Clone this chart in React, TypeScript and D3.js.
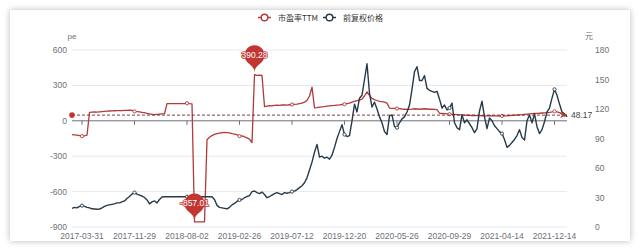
import React from 'react';
import * as d3 from 'd3';

// ---- data ----
const tickLabels = ['2017-03-31', '2017-11-29', '2018-08-02', '2019-02-26', '2019-07-12', '2019-12-20', '2020-05-26', '2020-09-29', '2021-04-14', '2021-12-14'];
const firstTickIndex = 4;
const tickEvery = 21;

const peTTM = [
  -118, -120, -122, -125, -130, -128, -122,
  72, 74, 75, 74, 76, 78, 80, 82, 83, 84, 85, 86, 87, 86, 88, 89, 90, 88,
  80, 78, 76, 72, 70, 62, 58, 55, 52, 54, 56, 58, 60,
  145, 146, 146, 145, 146, 146, 145, 146, 149, 145, 144,
  -857.01, -857, -857, -857, -857,
  -160, -140, -125, -115, -108, -104, -100, -98, -100, -102, -108, -112, -118, -130, -128, -135, -145, -155, -185,
  390.28, 385, 386, 384,
  120, 125, 128, 126, 130, 132, 130, 134, 135, 133, 136, 138, 140, 142, 145, 150, 158, 172, 210, 285,
  110, 112, 115, 118, 120, 124, 126, 128, 130, 133, 135, 138, 140,
  145, 150, 158, 165, 170, 175, 185, 210, 245, 215, 190, 180, 172, 165, 162, 158, 150,
  108, 105, 106, 104, 103, 100, 98, 96, 97, 99, 102, 100, 98, 100, 102, 100, 98, 99, 97, 95,
  64, 62, 60, 58, 56, 55, 54, 52, 50, 50, 48, 47, 46, 45, 45, 44, 44, 43, 42, 42, 43, 42, 41, 41, 40, 41,
  42, 43, 45, 46, 48, 49, 50, 52, 54, 56, 58, 60, 62, 63, 64, 66, 68, 70, 72, 75, 80, 76, 70, 55, 40, 50,
];

const price = [
  19, 20, 19.5, 21, 21.7, 21, 20, 19.5, 18.5, 18.3,
  18, 18.3, 19.5, 21, 22, 22.5, 23, 23.5, 24.5, 24.5,
  25.5, 26.5, 29, 31, 33.5, 35, 33.5, 32.5, 31.5, 30,
  27.5, 23.5, 25.5, 26.5, 24.5, 28, 30.5, 30.8,
  30.8, 30.8, 30.8, 30.8, 30.8, 30.8, 30.8, 30.8, 30.8, 30.8, 30.8, 30.8, 30.8, 30.8, 30.8, 30.8, 30.8, 30.8, 30.8,
  28, 22, 20, 19.5, 19, 18.5, 20, 22.5, 24, 26,
  27.5, 28, 29.8, 31, 32, 36, 36.6, 35, 34, 35.5,
  33, 29.8, 31, 32.5, 34, 35, 34, 33, 35, 34.3,
  35, 36, 36.5, 38, 40, 42, 45, 50, 58, 66,
  76, 84, 71, 72, 70, 71, 69, 73, 81, 90,
  97, 104, 94, 92, 93, 108, 125, 117, 131, 134,
  150, 166, 136, 122, 127, 120, 112, 106, 97, 94,
  113, 114, 102, 101, 106, 110, 112, 117, 124, 140,
  158, 163, 149, 149, 154, 141, 139, 138, 137, 138,
  130, 121, 124, 119, 121, 126, 106, 101, 99, 114,
  106, 109, 105, 101, 96, 100, 118, 128, 112, 100,
  111, 108, 103, 100, 97, 95, 89, 81, 83, 86,
  89, 93, 99, 91, 88.5, 108, 114, 106, 115, 102,
  95, 99, 107, 117, 121, 131, 140, 134, 125, 117, 115, 112,
];

const peAverage = 48.17;
const leftTicks = [600, 300, 0, -300, -600, -900];
const rightTicks = [180, 150, 120, 90, 60, 30, 0];
const seriesNames = ['市盈率TTM', '前复权价格'];

const RED = '#c23531';
const RED_LINE = '#b13a3a';
const DARK = '#263a4a';
const FONT = '"Liberation Sans", Arial, sans-serif';
const CJK = '"Noto Sans CJK SC", "Liberation Sans", sans-serif';

function pinPath(x: number, y: number, w: number, h: number) {
  const r = w / 2;
  const dy = (r * r) / (h - r);
  const cy = y - h + r + dy;
  const angle = Math.asin(dy / r);
  const dx = Math.cos(angle) * r;
  const tanX = Math.sin(angle);
  const tanY = Math.cos(angle);
  const cpLen = r * 0.6;
  const cpLen2 = r * 0.7;
  const p = d3.path();
  p.moveTo(x - dx, cy + dy);
  p.arc(x, cy, r, Math.PI - angle, Math.PI * 2 + angle);
  p.bezierCurveTo(x + dx - tanX * cpLen, cy + dy + tanY * cpLen, x, y - cpLen2, x, y);
  p.bezierCurveTo(x, y - cpLen2, x - dx + tanX * cpLen, cy + dy + tanY * cpLen, x - dx, cy + dy);
  p.closePath();
  return { d: p.toString(), cy };
}

export default function App() {
  const W = 640, H = 252;
  const left = 72, right = 567, top = 50, bottom = 227;
  const n = peTTM.length;
  const x = d3.scaleLinear().domain([0, n - 1]).range([left, right]);
  const yL = d3.scaleLinear().domain([-900, 600]).range([bottom, top]);
  const yR = d3.scaleLinear().domain([0, 180]).range([bottom, top]);

  const peLine = d3.line<number>().x((_, i) => x(i)).y((d) => yL(d));
  const priceLine = d3.line<number>().x((_, i) => x(i)).y((d) => yR(d));

  const tickIdx = tickLabels.map((_, k) => firstTickIndex + k * tickEvery);

  const maxI = d3.maxIndex(peTTM);
  const minI = d3.minIndex(peTTM);
  const pinW = 20, pinH = 32;
  const maxPin = pinPath(x(maxI), yL(peTTM[maxI]) - 2, pinW, pinH);
  const minPin = pinPath(x(minI), yL(peTTM[minI]) - 1, pinW, pinH);

  const yAvg = yL(peAverage);
  const pinText = { fontSize: 8.5, fontFamily: FONT, fill: '#fff', textAnchor: 'middle' as const, stroke: RED, strokeWidth: 1.6, paintOrder: 'stroke' as const };

  return (
    <svg width={W} height={H} style={{ position: 'fixed', left: 0, top: 0, background: '#fff' }}>
      <defs>
        <filter id="sh" x="-5%" y="-8%" width="110%" height="116%">
          <feDropShadow dx="0" dy="0" stdDeviation="3" floodColor="#000" floodOpacity="0.28" />
        </filter>
      </defs>
      <rect x={10} y={10} width={620} height={231} fill="#fff" filter="url(#sh)" />

      {/* legend */}
      <g>
        <line x1={258} x2={271} y1={17.5} y2={17.5} stroke={RED_LINE} strokeWidth={1.5} />
        <circle cx={264.5} cy={17.5} r={3.3} fill="#fff" stroke={RED_LINE} strokeWidth={1.4} />
        <text x={278} y={20.5} fontSize={8} fontFamily={CJK} fill="#333">{seriesNames[0]}</text>
        <line x1={323} x2={336} y1={17.5} y2={17.5} stroke={DARK} strokeWidth={1.5} />
        <circle cx={329.5} cy={17.5} r={3.3} fill="#fff" stroke={DARK} strokeWidth={1.4} />
        <text x={343} y={20.5} fontSize={8} fontFamily={CJK} fill="#333">{seriesNames[1]}</text>
      </g>

      {/* axis names */}
      <text x={72} y={39} fontSize={8} fontFamily={FONT} fill="#6e7079" textAnchor="middle">pe</text>
      <text x={589} y={39} fontSize={8} fontFamily={CJK} fill="#6e7079" textAnchor="middle">元</text>

      {/* grid */}
      {leftTicks.map((t) => (
        t === 0 ? null : <line key={t} x1={left} x2={right} y1={yL(t)} y2={yL(t)} stroke="#e6e9f0" strokeWidth={1} />
      ))}
      {leftTicks.map((t) => (
        <text key={'l' + t} x={67} y={yL(t) + 3} fontSize={8.5} fontFamily={FONT} fill="#6e7079" textAnchor="end">{t}</text>
      ))}
      {rightTicks.map((t) => (
        <text key={'r' + t} x={595} y={yR(t) + 3} fontSize={8.5} fontFamily={FONT} fill="#6e7079" textAnchor="start">{t}</text>
      ))}

      {/* x axis on zero */}
      <line x1={left} x2={right} y1={yL(0)} y2={yL(0)} stroke="#6e7079" strokeWidth={1} />
      {tickIdx.map((i) => (
        <line key={'t' + i} x1={x(i)} x2={x(i)} y1={yL(0)} y2={yL(0) + 4} stroke="#6e7079" strokeWidth={1} />
      ))}
      {tickIdx.map((i, k) => (
        <text key={'xl' + i} x={x(i)} y={239} fontSize={8.5} fontFamily={FONT} fill="#6e7079" textAnchor="middle">{tickLabels[k]}</text>
      ))}

      {/* series */}
      <path d={peLine(peTTM) || ''} fill="none" stroke={RED_LINE} strokeWidth={1.3} strokeLinejoin="round" />
      <path d={priceLine(price) || ''} fill="none" stroke={DARK} strokeWidth={1.4} strokeLinejoin="round" />
      {tickIdx.map((i) => (
        <circle key={'rc' + i} cx={x(i)} cy={yL(peTTM[i])} r={1.6} fill="#fff" stroke={RED_LINE} strokeWidth={0.9} />
      ))}
      {tickIdx.map((i) => (
        <circle key={'bc' + i} cx={x(i)} cy={yR(price[i])} r={1.6} fill="#fff" stroke={DARK} strokeWidth={0.9} />
      ))}

      {/* average mark line */}
      <line x1={left} x2={right - 4} y1={yAvg} y2={yAvg} stroke="#6e2b2b" strokeWidth={0.9} strokeDasharray="3,2" />
      <circle cx={left} cy={yAvg} r={2.8} fill={RED} />
      <path d={`M${right},${yAvg} L${right - 7},${yAvg - 3} L${right - 5},${yAvg} L${right - 7},${yAvg + 3} Z`} fill={RED} />
      <text x={571} y={yAvg + 3} fontSize={8.5} fontFamily={FONT} fill="#444">{peAverage.toFixed(2)}</text>

      {/* mark points */}
      <path d={maxPin.d} fill={RED} />
      <text x={x(maxI)} y={maxPin.cy + 3} {...pinText}>{peTTM[maxI].toFixed(2)}</text>
      <path d={minPin.d} fill={RED} />
      <text x={x(minI)} y={minPin.cy + 3} {...pinText}>{peTTM[minI].toFixed(2)}</text>
    </svg>
  );
}
